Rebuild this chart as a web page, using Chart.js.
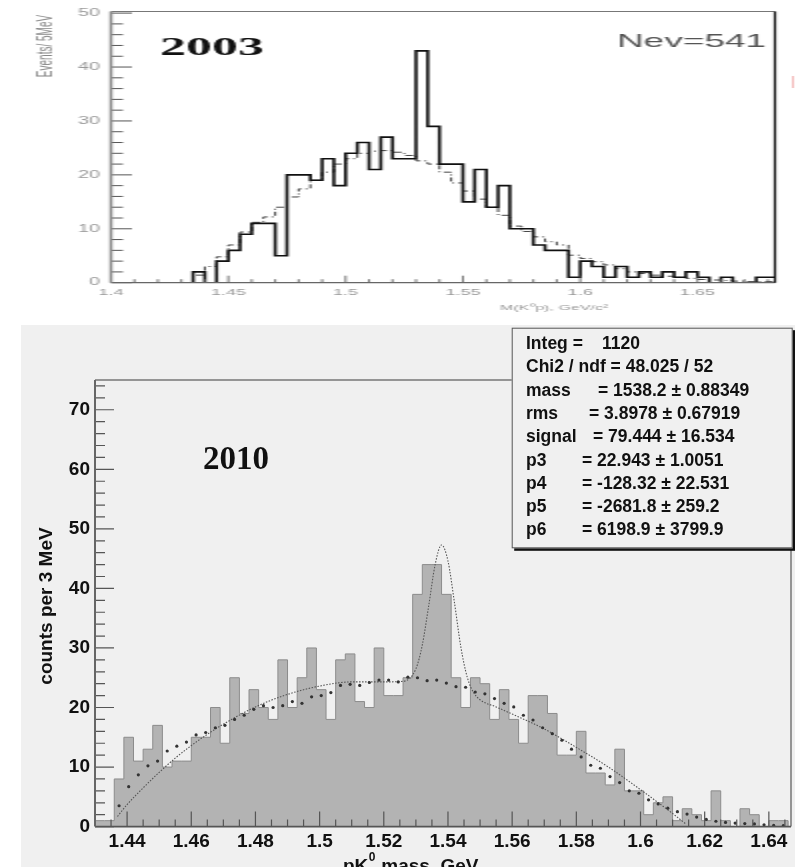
<!DOCTYPE html>
<html>
<head>
<meta charset="utf-8">
<script src="https://cdn.jsdelivr.net/npm/chart.js@4.4.1/dist/chart.umd.min.js"></script>
<style>
  html, body { margin: 0; padding: 0; background: #fff; }
  body { width: 804px; height: 867px; position: relative; overflow: hidden; }
  /* the 2003 plot is a horizontally stretched scan, so draw it at half width and stretch it */
  #top { position: absolute; left: 0; top: 0; width: 402px; height: 325px; transform: scaleX(2); transform-origin: 0 0; }
  #bottom { position: absolute; left: 21px; top: 325px; width: 774px; height: 542px; background: #f0f0f0; }
</style>
</head>
<body>
<div id="top"><canvas id="c2003"></canvas></div>
<div id="bottom"><canvas id="c2010"></canvas></div>
<script>
// 2003: M(K0p), 5 MeV bins, Nev=541
const BINS_2003_START = 1.435;
const BINS_2003_WIDTH = 0.005;
const COUNTS_2003 = [
  2, 2, 0, 4, 6, 9, 11, 11, 5, 20,
  20, 19, 23, 18, 24, 26, 21, 27, 23, 23,
  43, 29, 22, 22, 15, 21, 14, 18, 10, 10,
  7, 6, 6, 1, 4, 3, 1, 3, 1, 2,
  1, 2, 1, 2, 1, 0, 1, 0, 0, 1
];
const BACKGROUND_2003 = [
  0.8, 1.4, 3, 4.8, 7, 9.4, 11.2, 12.2, 14, 15.9,
  17.4, 19, 20.5, 22, 23, 24, 24.4, 24.5, 24.2, 23.6,
  22.6, 22, 20.5, 18.5, 17, 15.5, 14, 12.5, 10.5, 9.5,
  8.5, 7.6, 7, 5.1, 4.5, 3.9, 3.3, 2.6, 2, 1.7,
  1.4, 1.2, 1, 0.8, 0.6, 0.5, 0.4, 0.3, 0.2, 0.2
];

// 2010: pK0 mass, 3 MeV bins
const BINS_2010_START = 1.43;
const BINS_2010_WIDTH = 0.003;
const COUNTS_2010 = [
  0, 1, 1, 8, 15, 11, 13, 17, 10, 11,
  11, 15, 15, 20, 14, 25, 19, 23, 20, 18,
  28, 20, 25, 30, 23, 18, 28, 29, 21, 20,
  30, 22, 22, 25, 39, 44, 44, 39, 25, 20,
  25, 24, 18, 23, 18, 14, 22, 22, 19, 12,
  12, 16, 9, 9, 7, 13, 6, 6, 2, 4,
  5, 1, 3, 2, 1, 6, 1, 0, 3, 2,
  0, 1
];
// fit curve (background + gaussian)
const FIT_MASS = [
  1.437, 1.440, 1.445, 1.450, 1.455, 1.460, 1.465, 1.470, 1.480, 1.490,
  1.500, 1.510, 1.520, 1.526, 1.530, 1.532, 1.534, 1.536, 1.538, 1.540,
  1.542, 1.544, 1.546, 1.548, 1.550, 1.555, 1.560, 1.570, 1.580, 1.590,
  1.600, 1.610, 1.614
];
const FIT_COUNTS = [
  1.7, 3.7, 6.5, 9.1, 11.5, 13.6, 15.5, 17.2, 20.1, 22.2,
  23.6, 24.3, 24.3, 24.4, 26.5, 30.5, 37.1, 44.0, 47.3, 44.6,
  37.7, 30.2, 25.1, 22.5, 21.3, 20.1, 18.9, 16.4, 13.3, 10.0,
  6.2, 2.2, 0.5
];
// dotted background estimate, one point per bin centre starting at bin 2
const BG_FIRST_BIN = 2;
const BACKGROUND_2010 = [
  3.5, 6.7, 8.7, 10.2, 11, 12.7, 13.5, 14.2, 15.4, 15.8,
  16.6, 17, 18, 18.7, 19.7, 20.3, 20, 20.3, 21, 20.7,
  21.8, 22, 22.5, 23.7, 23.9, 23.7, 24.2, 24.6, 24.6, 24.3,
  25.1, 25, 24.5, 24.6, 24.1, 23.5, 23.4, 22.6, 22.3, 21.5,
  20.7, 20.1, 18.7, 17.9, 16.6, 15.6, 14.5, 13, 11.7, 10.3,
  9.8, 8.4, 7.4, 6, 5.6, 4.5, 3.8, 3.1, 2.5, 2.1,
  1.6, 1.2, 0.9, 0.7, 0.6, 0.5, 0.45, 0.3, 0.2, 0.15
];

const STATS_ROWS = [
  ["Integ =", "1120"],
  ["Chi2 / ndf = 48.025 / 52", ""],
  ["mass", "= 1538.2 \u00b1 0.88349"],
  ["rms", "= 3.8978 \u00b1 0.67919"],
  ["signal", "= 79.444 \u00b1 16.534"],
  ["p3", "= 22.943 \u00b1 1.0051"],
  ["p4", "= -128.32 \u00b1 22.531"],
  ["p5", "= -2681.8 \u00b1 259.2"],
  ["p6", "= 6198.9 \u00b1 3799.9"]
];
const STATS_VALUE_X = [581, 0, 577, 568, 572, 561, 561, 561, 561];

function steps(start, width, values) {
  const pts = [{ x: start, y: 0 }];
  values.forEach((v, i) => pts.push({ x: start + i * width, y: v }));
  const end = start + values.length * width;
  pts.push({ x: end, y: values[values.length - 1] });
  pts.push({ x: end, y: 0 });
  return pts;
}

function isStep(v, step) {
  return Math.abs(v / step - Math.round(v / step)) < 1e-6;
}

function stepLabel(step) {
  return v => isStep(v, step) ? String(+v.toFixed(2)) : "";
}

function insideTicks(chart, spec) {
  const { ctx, chartArea: a, scales: { x, y } } = chart;
  ctx.save();
  ctx.strokeStyle = spec.color;
  ctx.lineWidth = spec.xWidth;
  ctx.beginPath();
  for (const t of x.ticks) {
    const px = x.getPixelForValue(t.value);
    if (px < a.left + 1 || px > a.right - 1) continue;
    const len = isStep(t.value, spec.xMajor) ? spec.xMajorLen : spec.xMinorLen;
    ctx.moveTo(px, a.bottom);
    ctx.lineTo(px, a.bottom - len);
  }
  ctx.stroke();
  ctx.lineWidth = spec.yWidth;
  ctx.beginPath();
  for (const t of y.ticks) {
    const py = y.getPixelForValue(t.value);
    const len = isStep(t.value, spec.yMajor) ? spec.yMajorLen : spec.yMinorLen;
    ctx.moveTo(a.left, py);
    ctx.lineTo(a.left + len, py);
  }
  ctx.stroke();
  ctx.restore();
}

function line(ctx, x1, y1, x2, y2, color, width) {
  ctx.strokeStyle = color;
  ctx.lineWidth = width;
  ctx.beginPath();
  ctx.moveTo(x1, y1);
  ctx.lineTo(x2, y2);
  ctx.stroke();
}

const frame2003 = {
  id: "frame2003",
  afterDatasetsDraw(chart) {
    const { ctx, chartArea: a } = chart;
    insideTicks(chart, {
      color: "#555", xWidth: 0.8, yWidth: 1,
      xMajor: 0.05, xMajorLen: 7, xMinorLen: 3.5,
      yMajor: 10, yMajorLen: 10.5, yMinorLen: 6
    });
    ctx.save();
    line(ctx, a.left, a.top, a.right, a.top, "#777", 1);
    line(ctx, a.left, a.bottom, a.right, a.bottom, "#666", 1.2);
    line(ctx, a.right, a.top, a.right, a.bottom, "#111", 1.2);
    line(ctx, a.left, a.top, a.left, a.bottom, "#888", 1.5);
    ctx.restore();
  },
  afterDraw(chart) {
    const { ctx } = chart;
    ctx.save();
    ctx.fillStyle = "#111";
    ctx.font = "bold 26px 'Liberation Serif'";
    ctx.textBaseline = "alphabetic";
    ctx.fillText("2003", 80, 55);
    ctx.fillStyle = "#555";
    ctx.font = "18.5px 'Liberation Sans'";
    ctx.fillText("Nev=541", 308.5, 47);
    ctx.fillStyle = "#999";
    ctx.font = "8px 'Liberation Sans'";
    ctx.fillText("M(K\u2070p), GeV/c\u00b2", 250, 310);
    ctx.translate(23, 46);
    ctx.rotate(-Math.PI / 2);
    ctx.textAlign = "center";
    ctx.textBaseline = "middle";
    ctx.font = "10px 'Liberation Sans'";
    ctx.fillStyle = "#888";
    ctx.fillText("Events/ 5MeV", 0, 0);
    ctx.restore();
    ctx.save();
    line(ctx, 396.5, 76, 396.5, 88, "rgba(225,90,90,0.7)", 0.6);
    ctx.restore();
  }
};

const frame2010 = {
  id: "frame2010",
  afterDatasetsDraw(chart) {
    const { ctx, chartArea: a } = chart;
    insideTicks(chart, {
      color: "#555", xWidth: 1.2, yWidth: 1.2,
      xMajor: 0.02, xMajorLen: 15, xMinorLen: 7,
      yMajor: 10, yMajorLen: 19, yMinorLen: 10
    });
    ctx.save();
    line(ctx, a.left, a.top, a.right, a.top, "#777", 1.5);
    line(ctx, a.right, a.top, a.right, a.bottom, "#777", 1.5);
    line(ctx, a.left, a.bottom, a.right, a.bottom, "#555", 1.6);
    line(ctx, a.left, a.top, a.left, a.bottom, "#666", 2);
    ctx.restore();
  },
  afterDraw(chart) {
    const { ctx } = chart;
    ctx.save();
    ctx.fillStyle = "#111";
    ctx.font = "bold 33px 'Liberation Serif'";
    ctx.fillText("2010", 182, 144);

    // x title, cut by the bottom edge
    ctx.font = "bold 19px 'Liberation Sans'";
    let x = 322;
    ctx.fillText("pK", x, 546.6);
    x += ctx.measureText("pK").width;
    ctx.font = "bold 12px 'Liberation Sans'";
    ctx.fillText("0", x + 0.5, 536);
    x += ctx.measureText("0").width + 1;
    ctx.font = "bold 19px 'Liberation Sans'";
    ctx.fillText(" mass, GeV", x, 546.6);

    // y title
    ctx.save();
    ctx.translate(26, 281);
    ctx.rotate(-Math.PI / 2);
    ctx.textAlign = "center";
    ctx.textBaseline = "middle";
    ctx.fillText("counts per 3 MeV", 0, 0);
    ctx.restore();

    // statistics box
    const bx = 490.7, by = 2.7, bw = 281, bh = 220.6;
    ctx.fillStyle = "#111";
    ctx.fillRect(bx + 2.5, by + 2.5, bw, bh);
    ctx.fillStyle = "#f0f0f0";
    ctx.fillRect(bx, by, bw, bh);
    ctx.strokeStyle = "#555";
    ctx.lineWidth = 1;
    ctx.strokeRect(bx + 0.5, by + 0.5, bw - 1, bh - 1);
    ctx.fillStyle = "#111";
    ctx.font = "bold 17.5px 'Liberation Sans'";
    STATS_ROWS.forEach((row, i) => {
      const base = 24 + i * 23.3;
      ctx.fillText(row[0], 505, base);
      if (row[1]) ctx.fillText(row[1], STATS_VALUE_X[i], base);
    });
    ctx.restore();
  }
};

new Chart(document.getElementById("c2003"), {
  type: "line",
  data: {
    datasets: [
      {
        data: steps(BINS_2003_START, BINS_2003_WIDTH, COUNTS_2003),
        stepped: "after",
        borderColor: "#111",
        borderWidth: 1.6,
        pointRadius: 0,
        fill: false,
        order: 0
      },
      {
        data: steps(BINS_2003_START, BINS_2003_WIDTH, BACKGROUND_2003),
        stepped: "after",
        borderColor: "#444",
        borderWidth: 1,
        borderDash: [4, 2, 1, 2],
        pointRadius: 0,
        fill: false,
        order: 1
      }
    ]
  },
  options: {
    responsive: true,
    maintainAspectRatio: false,
    animation: false,
    events: [],
    layout: { padding: { top: 10, right: 14.5, left: 0, bottom: 0 } },
    plugins: { legend: { display: false }, tooltip: { enabled: false } },
    scales: {
      x: {
        type: "linear",
        min: 1.4,
        max: 1.683,
        afterFit: axis => { axis.height = 42.3; },
        grid: { display: false, drawTicks: false },
        border: { display: false },
        ticks: {
          stepSize: 0.01,
          autoSkip: false,
          maxRotation: 0,
          includeBounds: false,
          padding: 4,
          color: "#999",
          font: { family: "Liberation Sans", size: 9 },
          callback: stepLabel(0.05)
        }
      },
      y: {
        type: "linear",
        min: 0,
        max: 50.3,
        afterFit: axis => { axis.width = 55.5; },
        grid: { display: false, drawTicks: false },
        border: { display: false },
        ticks: {
          stepSize: 2,
          autoSkip: false,
          includeBounds: false,
          padding: 5.5,
          color: "#999",
          font: { family: "Liberation Sans", size: 10 },
          callback: stepLabel(10)
        }
      }
    }
  },
  plugins: [frame2003]
});

new Chart(document.getElementById("c2010"), {
  type: "line",
  data: {
    datasets: [
      {
        data: steps(BINS_2010_START, BINS_2010_WIDTH, COUNTS_2010),
        stepped: "after",
        backgroundColor: "#b3b3b3",
        borderColor: "#8c8c8c",
        borderWidth: 1,
        pointRadius: 0,
        fill: "origin",
        order: 3
      },
      {
        data: FIT_MASS.map((m, i) => ({ x: m, y: FIT_COUNTS[i] })),
        borderColor: "#555",
        borderWidth: 1.1,
        borderDash: [1.5, 1.5],
        cubicInterpolationMode: "monotone",
        pointRadius: 0,
        fill: false,
        order: 1
      },
      {
        data: BACKGROUND_2010.map((v, i) => ({
          x: BINS_2010_START + (BG_FIRST_BIN + i + 0.5) * BINS_2010_WIDTH,
          y: v
        })),
        showLine: false,
        pointRadius: 1.6,
        pointBackgroundColor: "#333",
        pointBorderColor: "#333",
        pointBorderWidth: 0,
        order: 0
      }
    ]
  },
  options: {
    responsive: true,
    maintainAspectRatio: false,
    animation: false,
    events: [],
    layout: { padding: { top: 55, right: 2.7, left: 0, bottom: 0 } },
    plugins: { legend: { display: false }, tooltip: { enabled: false } },
    scales: {
      x: {
        type: "linear",
        min: 1.43,
        max: 1.6469,
        afterFit: axis => { axis.height = 40.4; },
        grid: { display: false, drawTicks: false },
        border: { display: false },
        ticks: {
          stepSize: 0.005,
          autoSkip: false,
          maxRotation: 0,
          includeBounds: false,
          padding: 4,
          color: "#111",
          font: { family: "Liberation Sans", size: 19, weight: "bold" },
          callback: stepLabel(0.02)
        }
      },
      y: {
        type: "linear",
        min: 0,
        max: 75,
        afterFit: axis => { axis.width = 74; },
        grid: { display: false, drawTicks: false },
        border: { display: false },
        ticks: {
          stepSize: 2,
          autoSkip: false,
          includeBounds: false,
          padding: 5,
          color: "#111",
          font: { family: "Liberation Sans", size: 19, weight: "bold" },
          callback: stepLabel(10)
        }
      }
    }
  },
  plugins: [frame2010]
});
</script>
</body>
</html>
